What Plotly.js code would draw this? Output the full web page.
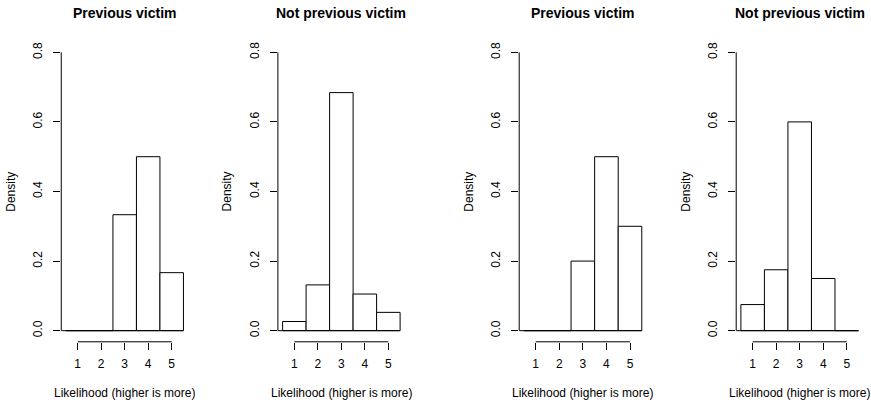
<!DOCTYPE html>
<html>
<head>
<meta charset="utf-8">
<script src="https://cdn.plot.ly/plotly-3.0.1.min.js"></script>
<style>html,body{margin:0;padding:0;background:#fff;}#chart{width:871px;height:402px;}</style>
</head>
<body>
<div id="chart"></div>
<script>
// Data
var categories = [1, 2, 3, 4, 5];
var panelTitles = ["Previous victim", "Not previous victim", "Previous victim", "Not previous victim"];
var prevVictimA = [0, 0, 0.3333, 0.5, 0.1667];
var notPrevVictimA = [0.0263, 0.1316, 0.6842, 0.1053, 0.0526];
var prevVictimB = [0, 0, 0.2, 0.5, 0.3];
var notPrevVictimB = [0.075, 0.175, 0.6, 0.15, 0];
var yTickVals = [0, 0.2, 0.4, 0.6, 0.8];
var yTickText = ["0.0", "0.2", "0.4", "0.6", "0.8"];
var xLabel = "Likelihood (higher is more)";
var yLabel = "Density";

var series = [prevVictimA, notPrevVictimA, prevVictimB, notPrevVictimB];

// Layout geometry (pixels -> paper)
var W = 871, H = 402;
var panelLeft = [61.25, 277.9, 519.2, 736.2];
var panelRight = [188.15, 404.8, 646.5, 863.2];
var plotTop = 41.2, plotBottom = 341.8;
var font = "Liberation Sans, Arial, Helvetica, sans-serif";

var traces = [];
var layout = {
  width: W, height: H,
  margin: {l: 0, r: 0, t: 0, b: 0},
  paper_bgcolor: "#fff", plot_bgcolor: "#fff",
  showlegend: false,
  font: {family: font, size: 12, color: "#000"},
  shapes: [], annotations: []
};

var yDom = [(H - plotBottom) / H, (H - plotTop) / H];

for (var i = 0; i < 4; i++) {
  var n = i === 0 ? "" : String(i + 1);
  var xa = "x" + n, ya = "y" + n;
  traces.push({
    type: "bar", x: categories, y: series[i], width: 1,
    xaxis: xa, yaxis: ya,
    marker: {color: "#fff", line: {color: "#000", width: 1}},
    hoverinfo: "x+y"
  });
  var xDom = [panelLeft[i] / W, panelRight[i] / W];
  layout["xaxis" + n] = {
    domain: xDom, anchor: ya, range: [0.3, 5.7],
    tickvals: categories, ticktext: categories.map(String),
    ticks: "outside", ticklen: 7, tickwidth: 1, tickcolor: "#000",
    showline: false, showgrid: false, zeroline: false,
    tickfont: {family: font, size: 12, color: "#000"},
    ticklabelstandoff: 4, fixedrange: true
  };
  layout["yaxis" + n] = {
    domain: yDom, anchor: xa, range: [-0.032, 0.832],
    tickvals: yTickVals, ticktext: yTickText, tickangle: -90,
    ticks: "outside", ticklen: 7, tickwidth: 1, tickcolor: "#000",
    showline: false, showgrid: false, zeroline: false,
    tickfont: {family: font, size: 12, color: "#000"},
    ticklabelstandoff: 6, fixedrange: true
  };
  // axis lines spanning only the tick range (R style)
  layout.shapes.push({type: "line", xref: xa, yref: ya + " domain",
    x0: categories[0], x1: categories[categories.length - 1], y0: 0, y1: 0,
    line: {color: "#000", width: 1}});
  layout.shapes.push({type: "line", xref: xa + " domain", yref: ya,
    x0: 0, x1: 0, y0: yTickVals[0], y1: yTickVals[yTickVals.length - 1],
    line: {color: "#000", width: 1}});
  // histogram baseline
  layout.shapes.push({type: "line", xref: xa, yref: ya,
    x0: 0.3, x1: 5.5, y0: 0, y1: 0,
    line: {color: "#000", width: 1}});
  var cx = (xDom[0] + xDom[1]) / 2;
  layout.annotations.push({text: "<b>" + panelTitles[i] + "</b>", xref: "paper", yref: "paper",
    x: cx, y: (H - 12.7) / H, xanchor: "center", yanchor: "middle", showarrow: false,
    font: {family: font, size: 14, color: "#000"}});
  layout.annotations.push({text: xLabel, xref: "paper", yref: "paper",
    x: cx, y: (H - 392.7) / H, xanchor: "center", yanchor: "middle", showarrow: false,
    font: {family: font, size: 12, color: "#000"}});
  layout.annotations.push({text: yLabel, xref: "paper", yref: "paper", textangle: -90,
    x: (panelLeft[i] - 51) / W, y: (yDom[0] + yDom[1]) / 2, xanchor: "center", yanchor: "middle", showarrow: false,
    font: {family: font, size: 12, color: "#000"}});
}

Plotly.newPlot("chart", traces, layout, {displayModeBar: false, staticPlot: true});
</script>
</body>
</html>
